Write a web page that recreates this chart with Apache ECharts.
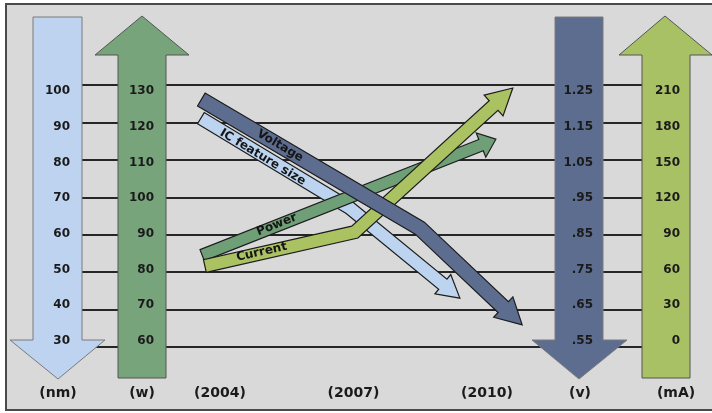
<!DOCTYPE html>
<html>
<head>
<meta charset="utf-8">
<script src="https://cdn.jsdelivr.net/npm/echarts@6.0.0/dist/echarts.min.js"></script>
<style>html,body{margin:0;padding:0;background:#fff;}#chart{width:712px;height:413px;}</style>
</head>
<body>
<div id="chart"></div>
<script>
// ---- data ----
const years = [2004, 2007, 2010];
const nmTicks = [30, 40, 50, 60, 70, 80, 90, 100];
const wTicks = [60, 70, 80, 90, 100, 110, 120, 130];
const vTicks = [0.55, 0.65, 0.75, 0.85, 0.95, 1.05, 1.15, 1.25];
const maTicks = [0, 30, 60, 90, 120, 150, 180, 210];
const unitLabels = ['(nm)', '(w)', '(v)', '(mA)'];

const icYears = [2003.57, 2006.92, 2009.39];
const icValues = [92.4, 67.2, 42];         // nm
const voltYears = [2003.58, 2008.49, 2010.79];
const voltValues = [1.226, 0.866, 0.595];  // v
const powerYears = [2003.6, 2010.2];
const powerValues = [84, 116.5];           // w
const currentYears = [2003.66, 2007.03, 2010.58];
const currentValues = [63, 91.5, 212.5];   // mA

// ---- helpers ----
const zip = (a, b) => a.map((x, i) => [x, b[i]]);
function nrm(v) { const l = Math.hypot(v[0], v[1]) || 1; return [v[0] / l, v[1] / l]; }

function arrowRenderer(o) {
  return function (params, api) {
    if (params.dataIndexInside !== 0) return null;
    const n = o.count;
    const P = [];
    for (let i = 0; i < n; i++) P.push(api.coord([api.value(0, i), api.value(1, i)]));
    const tip = P[n - 1];
    const dl = nrm([tip[0] - P[n - 2][0], tip[1] - P[n - 2][1]]);
    const B = [tip[0] - dl[0] * o.headLen, tip[1] - dl[1] * o.headLen];
    const Q = P.slice(0, n - 1).concat([B]);
    const m = Q.length;
    const N = [];
    for (let j = 0; j < m - 1; j++) {
      const d = nrm([Q[j + 1][0] - Q[j][0], Q[j + 1][1] - Q[j][1]]);
      N.push([-d[1], d[0]]);
    }
    const h = o.width / 2;
    const left = [], right = [];
    for (let i = 0; i < m; i++) {
      let off;
      if (i === 0) off = [N[0][0] * h, N[0][1] * h];
      else if (i === m - 1) off = [N[m - 2][0] * h, N[m - 2][1] * h];
      else {
        const a = nrm([N[i - 1][0] + N[i][0], N[i - 1][1] + N[i][1]]);
        const k = h / (a[0] * N[i][0] + a[1] * N[i][1]);
        off = [a[0] * k, a[1] * k];
      }
      left.push([Q[i][0] + off[0], Q[i][1] + off[1]]);
      right.push([Q[i][0] - off[0], Q[i][1] - off[1]]);
    }
    const nl = N[m - 2];
    const barbL = [B[0] + nl[0] * o.headHalf, B[1] + nl[1] * o.headHalf];
    const barbR = [B[0] - nl[0] * o.headHalf, B[1] - nl[1] * o.headHalf];
    const pts = left.concat([barbL, tip, barbR], right.reverse());

    const s = o.labelSeg, t = o.labelPos;
    const a0 = P[s], a1 = P[s + 1];
    const dx = a1[0] - a0[0], dy = a1[1] - a0[1];
    const dn = nrm([dx, dy]);
    const pn = [-dn[1], dn[0]];
    const lx = a0[0] + dx * t + pn[0] * o.labelOff;
    const ly = a0[1] + dy * t + pn[1] * o.labelOff;
    return {
      type: 'group',
      children: [
        { type: 'polygon', shape: { points: pts },
          style: { fill: o.color, stroke: '#1c1c1c', lineWidth: 1.2, lineJoin: 'miter' } },
        { type: 'text', x: lx, y: ly, rotation: -Math.atan2(dy, dx),
          style: { text: o.label, fill: '#151515', font: 'bold ' + o.fontSize + 'px "DejaVu Sans"',
                   align: 'center', verticalAlign: 'middle' } }
      ]
    };
  };
}

// ---- big vertical arrows (decoration) ----
function downArrow(x0, x1, top, headY, hx0, hx1, tipX, tipY, fill, z) {
  return { type: 'polygon', z: z, silent: true,
    shape: { points: [[x0, top], [x1, top], [x1, headY], [hx1, headY], [tipX, tipY], [hx0, headY], [x0, headY]] },
    style: { fill: fill, stroke: '#7a7a7a', lineWidth: 1 } };
}
function upArrow(x0, x1, bottom, headY, hx0, hx1, tipX, tipY, fill, z) {
  return { type: 'polygon', z: z, silent: true,
    shape: { points: [[x0, bottom], [x1, bottom], [x1, headY], [hx1, headY], [tipX, tipY], [hx0, headY], [x0, headY]] },
    style: { fill: fill, stroke: '#555', lineWidth: 1 } };
}

const labelFont = { fontFamily: 'DejaVu Sans', fontWeight: 'bold', fontSize: 12, color: '#1a1a1a' };
function labelAxis(ticks, axisX, fmt) {
  return {
    gridIndex: 1, type: 'value', position: 'left', offset: 42 - axisX,
    min: ticks[0], max: ticks[ticks.length - 1], z: 10,
    axisLine: { show: false }, axisTick: { show: false }, splitLine: { show: false },
    axisLabel: Object.assign({ margin: 8, customValues: ticks, formatter: fmt || (v => String(v)) }, labelFont)
  };
}

const unitX = [58, 142, 580, 676];

const option = {
  backgroundColor: '#ffffff',
  animation: false,
  grid: [
    { left: 42, right: 47, top: 85, bottom: 66 },
    { left: 42, right: 47, top: 91, bottom: 72 }
  ],
  xAxis: [
    { gridIndex: 0, type: 'value', min: 2000, max: 2014,
      axisLine: { show: false }, axisTick: { show: false }, splitLine: { show: false },
      axisLabel: { customValues: years, formatter: v => '(' + v + ')', margin: 39,
                   fontFamily: 'DejaVu Sans', fontWeight: 'bold', fontSize: 14, color: '#1a1a1a' } },
    { gridIndex: 1, type: 'value', min: 2000, max: 2014, show: false }
  ],
  yAxis: [
    { gridIndex: 0, type: 'value', min: nmTicks[0], max: nmTicks[nmTicks.length - 1], interval: 10, z: 1,
      axisLine: { show: false }, axisTick: { show: false }, axisLabel: { show: false },
      splitLine: { show: true, lineStyle: { color: '#262626', width: 2 } } },
    labelAxis(nmTicks, 78),
    labelAxis(wTicks, 162),
    labelAxis(vTicks, 601, v => v.toFixed(2).replace(/^0/, '')),
    labelAxis(maTicks, 688)
  ],
  graphic: [
    { type: 'rect', z: 0, silent: true, shape: { x: 6, y: 4, width: 720, height: 406 },
      style: { fill: '#d9d9d9', stroke: '#4a4a4a', lineWidth: 2 } },
    downArrow(33, 82, 17, 340, 10, 105, 58, 379, '#bdd3ef', 2),
    upArrow(118, 166, 378, 55, 95, 189, 142, 16, '#77a47b', 2),
    downArrow(555, 603, 17, 340, 532, 627, 579, 379, '#5c6d8f', 2),
    upArrow(642, 690, 378, 55, 619, 712, 665, 16, '#a9c165', 2)
  ].concat(unitLabels.map((u, i) => ({
    type: 'text', z: 11, silent: true, x: unitX[i], y: 393,
    style: { text: u, fill: '#1a1a1a', font: 'bold 14px "DejaVu Sans"', align: 'center', verticalAlign: 'middle' }
  }))),
  series: [
    { type: 'custom', name: 'IC feature size', xAxisIndex: 1, yAxisIndex: 1, z: 3, silent: true,
      encode: { x: 0, y: 1 }, data: zip(icYears, icValues),
      renderItem: arrowRenderer({ count: icYears.length, width: 13, headLen: 22, headHalf: 12.5,
        color: '#bdd4f0', label: 'IC feature size', labelSeg: 0, labelPos: 0.42, labelOff: 1.5, fontSize: 12 }) },
    { type: 'custom', name: 'Power', xAxisIndex: 1, yAxisIndex: 2, z: 4, silent: true,
      encode: { x: 0, y: 1 }, data: zip(powerYears, powerValues),
      renderItem: arrowRenderer({ count: powerYears.length, width: 12, headLen: 16, headHalf: 13,
        color: '#6f9f77', label: 'Power', labelSeg: 0, labelPos: 0.255, labelOff: -1, fontSize: 12 }) },
    { type: 'custom', name: 'Current', xAxisIndex: 1, yAxisIndex: 4, z: 5, silent: true,
      encode: { x: 0, y: 1 }, data: zip(currentYears, currentValues),
      renderItem: arrowRenderer({ count: currentYears.length, width: 13, headLen: 26, headHalf: 14,
        color: '#aac262', label: 'Current', labelSeg: 0, labelPos: 0.38, labelOff: -1, fontSize: 12 }) },
    { type: 'custom', name: 'Voltage', xAxisIndex: 1, yAxisIndex: 3, z: 6, silent: true,
      encode: { x: 0, y: 1 }, data: zip(voltYears, voltValues),
      renderItem: arrowRenderer({ count: voltYears.length, width: 15, headLen: 26, headHalf: 14,
        color: '#5c6d8f', label: 'Voltage', labelSeg: 0, labelPos: 0.36, labelOff: 0, fontSize: 12 }) }
  ]
};

const chart = echarts.init(document.getElementById('chart'), null, { renderer: 'canvas' });
chart.setOption(option);
</script>
</body>
</html>
